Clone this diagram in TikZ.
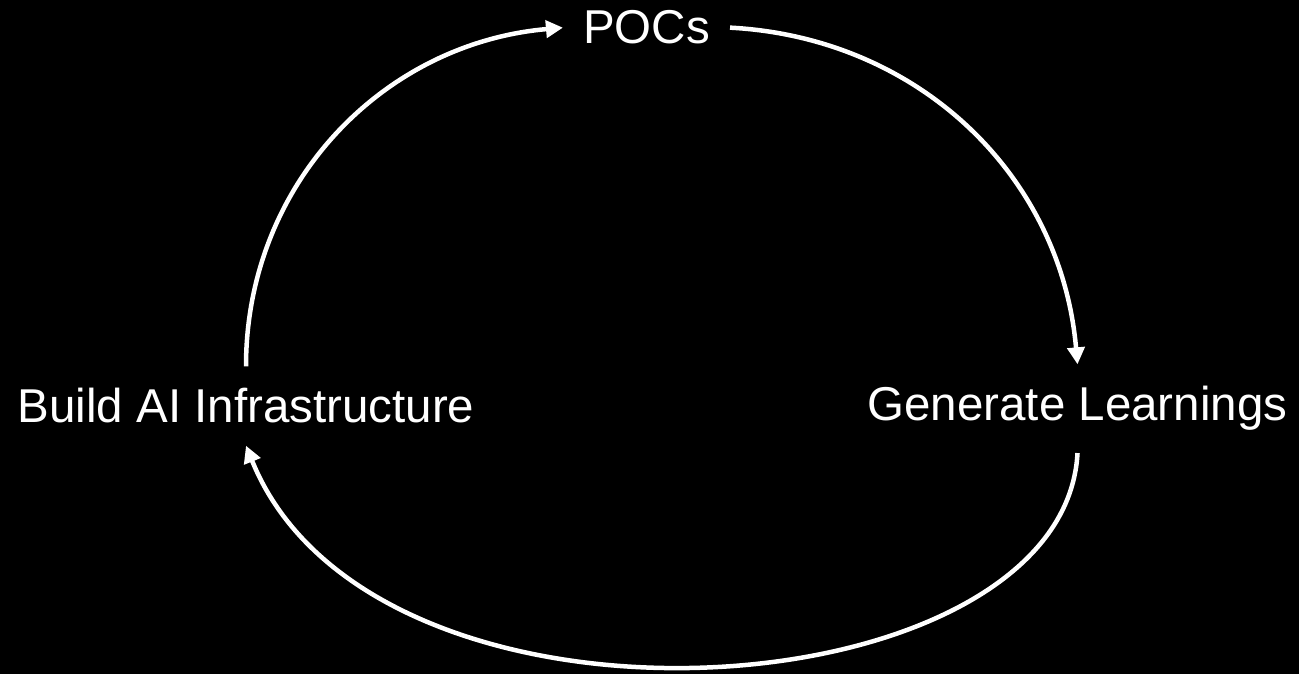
\documentclass[tikz,border=0pt]{standalone}
\usepackage{fontspec}
\setmainfont{Liberation Sans}
\usepackage{tikz}
\usetikzlibrary{arrows.meta}
\tikzstyle{stage}=[text=white,font=\fontsize{47.5}{57}\selectfont,inner xsep=20pt,inner ysep=22pt,anchor=base]
\tikzstyle{cycle}=[white,line width=4.5pt,-{Triangle[length=17pt,width=17pt]}]

\begin{document}
\begin{tikzpicture}[x=1pt,y=1pt]
				
				\fill[black] (0,0) rectangle (1299,674);
				\useasboundingbox (0,0) rectangle (1299,674);
				
				\node [stage] (pocs) at (646.5,630) {POCs};
				\node [stage] (build) at (246,251) {Build AI Infrastructure};
				\node [stage] (learn) at (1077.5,253) {Generate Learnings};
				
				\draw[cycle] (build.north) to [out=90,in=185] (pocs.west);
				\draw[cycle] (pocs.east) to [out=-3,in=95] (learn.north);
				\draw[cycle] (learn.south) to [out=-93,in=-68,out looseness=0.8,in looseness=1.05] (build.south);
				
\end{tikzpicture}
\end{document}
